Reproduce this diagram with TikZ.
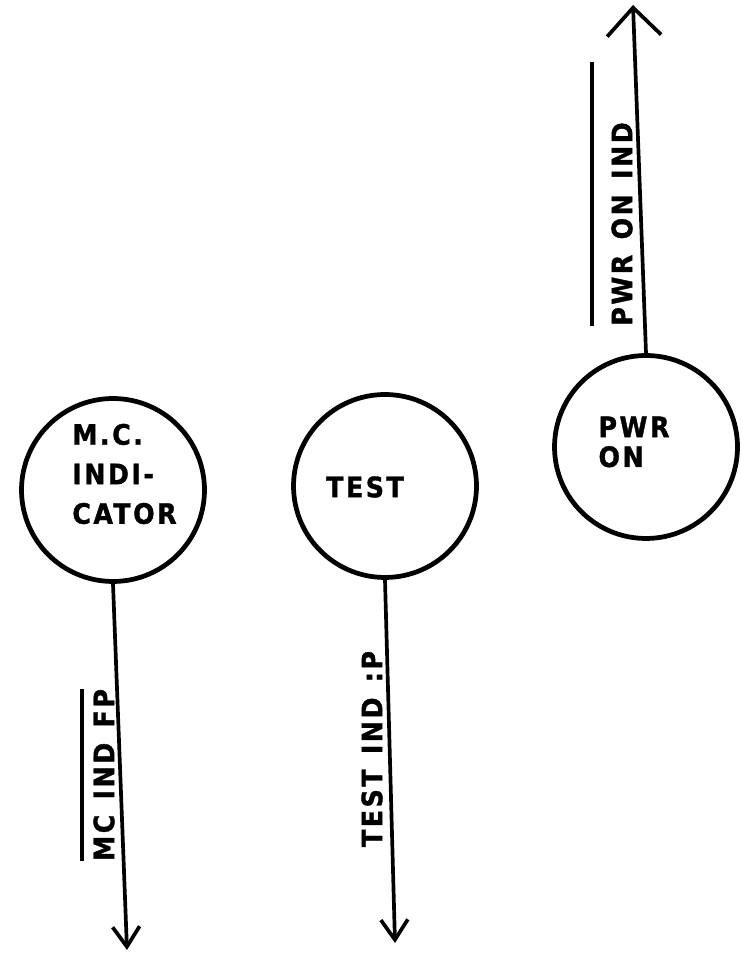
\documentclass[tikz,border=0pt]{standalone}
\usepackage{fontspec}
\usetikzlibrary{arrows.meta}
\newfontfamily\platefont{DejaVu Sans Condensed}[LetterSpace=9,WordSpace=1.35,FakeBold=1.2]

\begin{document}
\begin{tikzpicture}[x=0.02cm,y=0.02cm,
  font=\platefont\bfseries\fontsize{16}{22.5}\selectfont,
  ring/.style={circle,draw,line width=2.7pt,minimum size=3.66cm,inner sep=0pt},
  tag/.style={inner sep=0pt,align=left},
  sig/.style={rotate=90,inner sep=0pt},
  wire/.style={line width=2.1pt,-{Straight Barb[length=0.4cm,width=0.54cm]}},
  barline/.style={line width=2.1pt}]
  \useasboundingbox (0,0) rectangle (741,953);
  % indicator lamps
  \node[ring] (mc) at (113,463) {};
  \node[tag,anchor=west] (mctxt) at (72,479) {M.C.\\INDI-\\CATOR};
  \node[ring] (test) at (385,467) {};
  \node[tag] (testtxt) at (365,466) {TEST};
  \node[ring] (pwr) at (646,506) {};
  \node[tag] (pwrtxt) at (634,511) {PWR\\[-5.5pt]ON};
  % signal lines
  \coordinate (mcend) at (127,3);
  \coordinate (testend) at (395,10);
  \coordinate (pwrend) at (633,948);
  \draw[wire] (mc.south) -- (mcend);
  \draw[wire] (test.south) -- (testend);
  \draw[wire,-{Straight Barb[length=0.56cm,width=1.08cm]}] (pwr.north) -- (pwrend);
  % signal names
  \node[sig] (mcsig) at (104,178) {MC IND FP};
  \draw[barline] ([xshift=-0.22cm]mcsig.north west) -- ([xshift=-0.22cm]mcsig.north east);
  \node[sig] (testsig) at (372,204) {TEST IND :P};
  \node[sig] (pwrsig) at (622,729) {PWR ON IND};
  \draw[barline] ([xshift=-0.38cm]pwrsig.north west) -- ([xshift=-0.38cm,yshift=1.2cm]pwrsig.north east);
\end{tikzpicture}
\end{document}
